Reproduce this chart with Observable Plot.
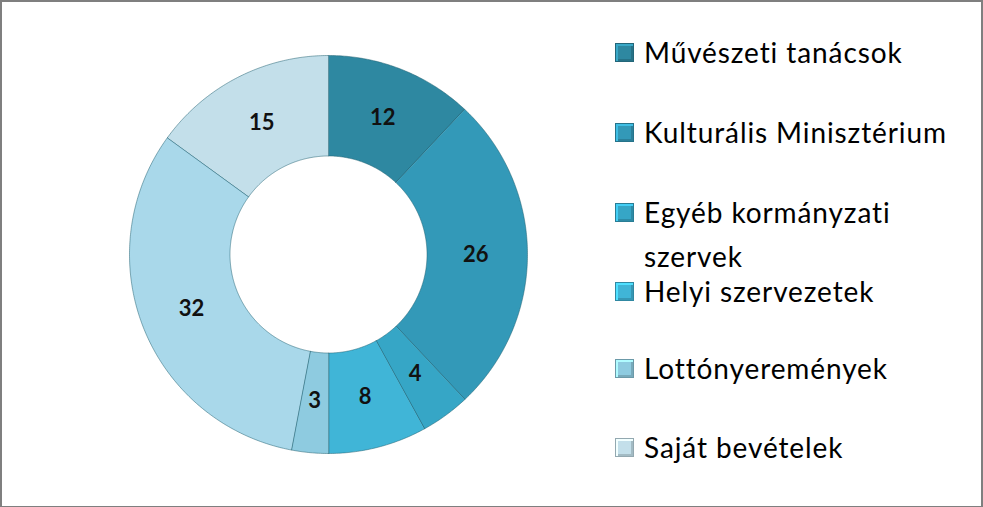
<!DOCTYPE html>
<html><head><meta charset="utf-8">
<script src="https://cdn.jsdelivr.net/npm/d3@7"></script>
<script src="https://cdn.jsdelivr.net/npm/@observablehq/plot@0.6"></script>
<style>
html,body{margin:0;padding:0;background:#fff;}
#frame{position:relative;width:983px;height:507px;box-sizing:border-box;border:2px solid #7f7f7f;border-bottom-width:1px;background:#fff;overflow:hidden;font-family:Lato,"Open Sans",sans-serif;}
#chart{position:absolute;left:0;top:0;}
.lg{position:absolute;left:613px;font-size:28px;line-height:44px;letter-spacing:0.9px;color:#000;}
.lg .sw{position:absolute;left:0;top:13px;width:19px;height:19px;box-sizing:border-box;}
.lg .tx{margin-left:29px;display:block;white-space:nowrap;}
</style></head>
<body><div id="frame"><div id="chart"></div></div>
<script>
// data
const categories = ["Művészeti tanácsok","Kulturális Minisztérium","Egyéb kormányzati szervek","Helyi szervezetek","Lottónyeremények","","Saját bevételek"];
const values = [12, 26, 4, 8, 3, 32, 15];
const colors = ["#2e88a1","#3399b8","#36a6c6","#40b5d7","#8ecbe0","#a9d8ea","#c3dfea"];
const legendLines = [["Művészeti tanácsok"],["Kulturális Minisztérium"],["Egyéb kormányzati","szervek"],["Helyi szervezetek"],["Lottónyeremények"],["Saját bevételek"]];
const legendIdx = [0,1,2,3,4,6];

// layout (not data)
const legendTops = [28, 108, 188, 267, 344, 423];

const pie = d3.pie().sort(null).value(d => d)(values);
const inner = 0.495, outer = 1;
const rows = [];
pie.forEach((p, i) => {
  const steps = Math.max(4, Math.ceil((p.endAngle - p.startAngle) / 0.01));
  for (let k = 0; k <= steps; k++) {
    const a = p.startAngle + (p.endAngle - p.startAngle) * k / steps;
    rows.push({slice: i, x: outer * Math.sin(a), y: outer * Math.cos(a)});
  }
  for (let k = steps; k >= 0; k--) {
    const a = p.startAngle + (p.endAngle - p.startAngle) * k / steps;
    rows.push({slice: i, x: inner * Math.sin(a), y: inner * Math.cos(a)});
  }
});
const labels = pie.map((p, i) => {
  const a = (p.startAngle + p.endAngle) / 2, r = 0.74;
  return {x: r * Math.sin(a), y: r * Math.cos(a), v: values[i]};
});

const plot = Plot.plot({
  width: 560, height: 503,
  marginLeft: 127, marginRight: 35, marginTop: 53, marginBottom: 52,
  x: {domain: [-1, 1], axis: null},
  y: {domain: [-1, 1], axis: null},
  color: {domain: d3.range(values.length), range: colors},
  style: {background: "transparent", fontFamily: "Lato, 'Open Sans', sans-serif"},
  marks: [
    Plot.line(rows, {x: "x", y: "y", z: "slice", fill: "slice", curve: "linear-closed", stroke: "#1f5f70", strokeOpacity: 0.5, strokeWidth: 1}),
    Plot.text(labels, {x: "x", y: "y", text: "v", fontSize: 22, fontWeight: "bold", fill: "#111"})
  ]
});
document.getElementById("chart").appendChild(plot);

const frame = document.getElementById("frame");
legendIdx.forEach((ci, j) => {
  const d = document.createElement("div");
  d.className = "lg";
  d.style.top = legendTops[j] + "px";
  const sw = document.createElement("span");
  sw.className = "sw";
  sw.style.background = colors[ci];
  sw.style.border = "1px solid " + d3.color(colors[ci]).darker(0.8);
  sw.style.boxShadow = "inset 2px 2px 0 " + d3.color(colors[ci]).brighter(0.6) + ", inset -2px -2px 0 " + d3.color(colors[ci]).darker(0.5);
  d.appendChild(sw);
  legendLines[j].forEach(t => {
    const s = document.createElement("span");
    s.className = "tx"; s.textContent = t; d.appendChild(s);
  });
  frame.appendChild(d);
});
</script></body></html>
